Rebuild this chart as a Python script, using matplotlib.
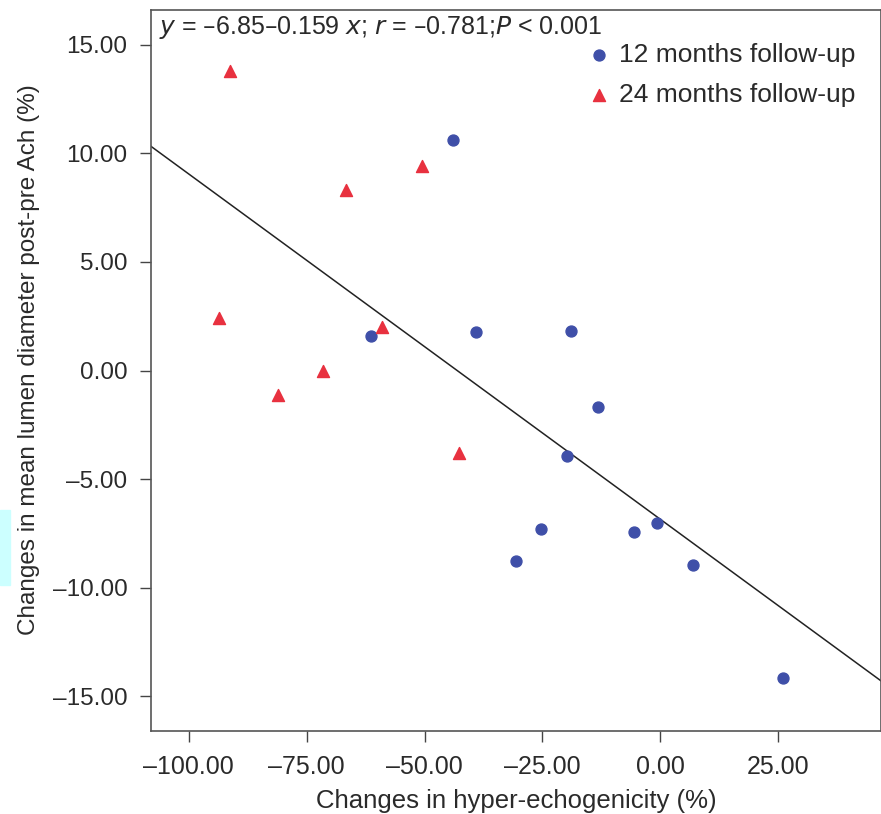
import matplotlib.pyplot as plt
from matplotlib.patches import Rectangle

# 12 months follow-up
x12 = [-43.9, -61.4, -39.0, -18.9, -13.3, -19.7, -25.2, -30.5, -5.5, -0.8, 7.0, 26.1]
y12 = [10.6, 1.57, 1.75, 1.8, -1.66, -3.96, -7.28, -8.76, -7.42, -7.0, -8.94, -14.15]

# 24 months follow-up
x24 = [-91.3, -66.7, -50.6, -93.6, -59.1, -71.6, -81.1, -42.6]
y24 = [13.8, 8.3, 9.4, 2.4, 2.0, 0.0, -1.15, -3.8]

# regression line
intercept = -6.85
slope = -0.159
xlim = (-108.0, 46.8)

xticks = [-100, -75, -50, -25, 0, 25]
yticks = [15, 10, 5, 0, -5, -10, -15]

plt.rcParams['font.family'] = ['Liberation Sans', 'DejaVu Sans']
txt = '#2a2a2a'

fig = plt.figure(figsize=(8.81, 8.14), dpi=100)
ax = fig.add_axes([151 / 881, 83 / 814, 1 - 151 / 881, 721 / 814])

ax.plot(xlim, [intercept + slope * xlim[0], intercept + slope * xlim[1]],
        color='#222222', lw=1.1)
ax.scatter(x12, y12, marker='o', s=62, color='#3f4fa8', label='12 months follow-up', zorder=3)
ax.scatter(x24, y24, marker='^', s=75, color='#e8313f', label='24 months follow-up', zorder=3)

ax.set_xlim(xlim)
ax.set_ylim(-16.6, 16.6)
ax.set_xticks(xticks)
ax.set_xticklabels(['\u2013%.2f' % abs(v) if v < 0 else '%.2f' % v for v in xticks],
                   fontsize=18, color=txt)
ax.set_yticks(yticks)
ax.set_yticklabels(['\u2013%.2f' % abs(v) if v < 0 else '%.2f' % v for v in yticks],
                   fontsize=17.5, color=txt)
ax.tick_params(length=8, width=1, color='#444444')
ax.tick_params(axis='x', pad=9)
ax.tick_params(axis='y', pad=9)
for sp in ax.spines.values():
    sp.set_color('#555555')
    sp.set_linewidth(1.2)

ax.set_xlabel('Changes in hyper-echogenicity (%)', fontsize=18.5, color=txt)
ax.xaxis.set_label_coords(0.5, -0.08)
ax.set_ylabel('Changes in mean lumen diameter post-pre Ach (%)', fontsize=17.5, color=txt)
ax.yaxis.set_label_coords(-0.152, 0.515)

ax.text(0.011, 0.994,
        '$\\it{y}$ = \u20136.85\u20130.159 $\\it{x}$; $\\it{r}$ = \u20130.781;$\\it{P}$ < 0.001',
        transform=ax.transAxes, ha='left', va='top', fontsize=18, color=txt)

leg = ax.legend(loc='upper left', bbox_to_anchor=(0.558, 0.987), frameon=False,
                prop={'size': 19}, handletextpad=0.1,
                labelspacing=0.6, handlelength=1.3)
for t in leg.get_texts():
    t.set_color(txt)

fig.patches.append(Rectangle((0, 229 / 814), 10 / 881, 75 / 814, transform=fig.transFigure,
                             color='#ccffff', zorder=0))

fig.savefig('out.png', dpi=100)
